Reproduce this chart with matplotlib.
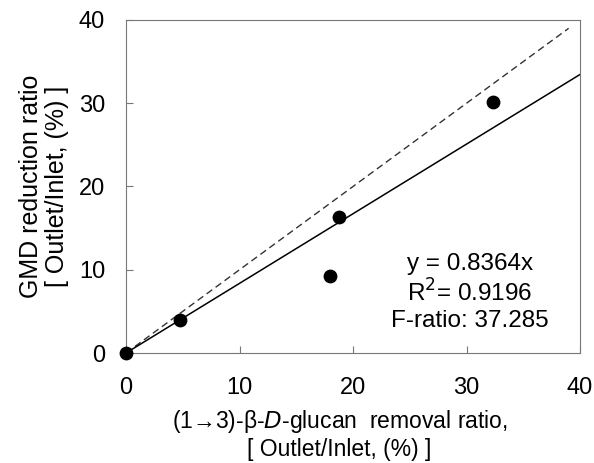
import matplotlib.pyplot as plt

# data
removal = [0, 4.8, 18.0, 18.8, 32.3]
gmd = [0, 4.0, 9.2, 16.3, 30.1]
slope = 0.8364
fit_x = [0, 40]
ident_x = [0, 39]

plt.rcParams['font.family'] = ['Liberation Sans', 'DejaVu Sans']
plt.rcParams['font.size'] = 16.5

dpi = 100
fig = plt.figure(figsize=(594 / dpi, 463 / dpi), dpi=dpi)
ax = fig.add_axes([126 / 594, 1 - 353 / 463, 454 / 594, 333 / 463])

ax.plot(ident_x, ident_x, color='#333333', lw=1, ls=(0, (5, 3)))
ax.plot(fit_x, [slope * x for x in fit_x], color='black', lw=1.1)
ax.scatter(removal, gmd, s=80, color='black', zorder=3, clip_on=False)

ax.set_xlim(0, 40)
ax.set_ylim(0, 40)
ax.set_xticks([0, 10, 20, 30, 40])
ax.set_yticks([0, 10, 20, 30, 40])
ax.tick_params(direction='in', length=5, color='#777777', labelsize=17)
ax.tick_params(axis='x', pad=17)
ax.tick_params(axis='y', pad=15)
for s in ax.spines.values():
    s.set_color('#777777')

ax.text(30.3, 7.3, 'y = 0.8364x\nR$^2$= 0.9196\nF-ratio: 37.285',
        ha='center', va='center', linespacing=1.2, fontsize=17.5)

ax.set_xlabel('(1\u21923)-\u03b2-$\\it{D}$-glucan  removal ratio,\n[ Outlet/Inlet, (%) ]',
              linespacing=1.15)
ax.xaxis.set_label_coords(0.47, -0.165)
ax.xaxis.label.set_va('top')
ax.set_ylabel('GMD reduction ratio\n[ Outlet/Inlet, (%) ]', linespacing=1.1,
              fontsize=18)
ax.yaxis.set_label_coords(-0.18, 0.5)
ax.yaxis.label.set_va('center')

fig.savefig('out.png', dpi=dpi)
